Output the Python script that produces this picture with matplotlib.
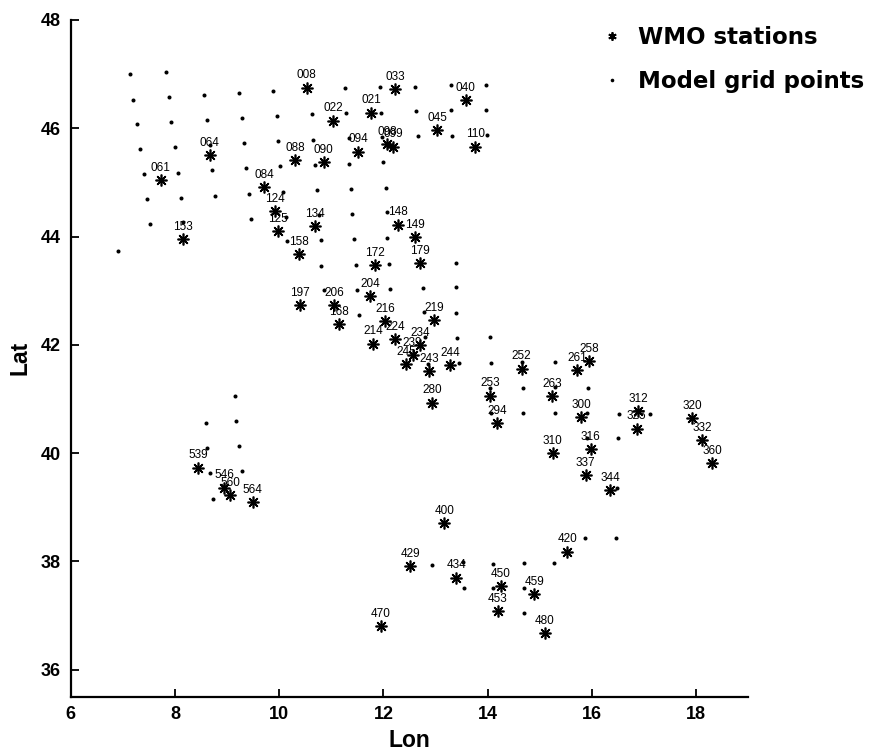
import matplotlib
matplotlib.use("Agg")
import matplotlib.pyplot as plt
from matplotlib.lines import Line2D

plt.rcParams['font.family'] = ['Liberation Sans', 'DejaVu Sans']

# WMO stations: identifier, longitude, latitude
station_ids = ["008", "022", "033", "021", "040", "045", "110", "064", "061", "088",
               "090", "094", "098", "099", "084", "124", "125", "134", "153", "148",
               "149", "158", "172", "179", "197", "206", "168", "204", "216", "219",
               "214", "224", "234", "239", "245", "243", "244", "280", "253", "252",
               "294", "263", "261", "258", "300", "310", "316", "337", "344", "312",
               "325", "320", "332", "360", "539", "546", "560", "564", "400", "429",
               "434", "450", "453", "459", "480", "420", "470"]
station_lon = [10.53, 11.03, 12.22, 11.77, 13.58, 13.03, 13.76, 8.67, 7.73, 10.30,
               10.85, 11.51, 12.07, 12.18, 9.71, 9.91, 9.98, 10.69, 8.16, 12.28,
               12.60, 10.37, 11.83, 12.70, 10.39, 11.05, 11.15, 11.75, 12.03, 12.97,
               11.80, 12.22, 12.70, 12.56, 12.43, 12.87, 13.28, 12.94, 14.05, 14.65,
               14.18, 15.23, 15.71, 15.94, 15.79, 15.25, 15.98, 15.88, 16.35, 16.89,
               16.86, 17.92, 18.12, 18.31, 8.45, 8.94, 9.06, 9.49, 13.17, 12.51,
               13.40, 14.25, 14.19, 14.89, 15.10, 15.53, 11.95]
station_lat = [46.75, 46.14, 46.72, 46.29, 46.52, 45.97, 45.66, 45.50, 45.04, 45.41,
               45.38, 45.57, 45.71, 45.66, 44.91, 44.47, 44.10, 44.19, 43.95, 44.22,
               43.99, 43.67, 43.47, 43.51, 42.73, 42.73, 42.38, 42.90, 42.44, 42.45,
               42.02, 42.11, 41.99, 41.81, 41.64, 41.52, 41.62, 40.93, 41.06, 41.56,
               40.56, 41.05, 41.53, 41.70, 40.66, 40.00, 40.08, 39.59, 39.31, 40.77,
               40.45, 40.64, 40.24, 39.82, 39.73, 39.36, 39.22, 39.10, 38.70, 37.91,
               37.70, 37.54, 37.08, 37.40, 36.67, 38.18, 36.80]

# Model grid points
grid_lon = [6.91, 7.13, 7.83,
            7.20, 7.88, 8.56, 9.23, 9.89, 11.26, 11.93, 12.60, 13.30, 13.97,
            7.28, 7.93, 8.61, 9.28, 9.95, 10.62, 11.29, 11.95, 12.62, 13.30, 13.97,
            7.33, 8.00, 8.67, 9.33, 9.98, 10.65, 11.33, 11.97, 12.66, 13.31, 13.99,
            7.40, 8.05, 8.71, 9.36, 10.02, 10.69, 11.34, 12.00,
            7.46, 8.11, 8.77, 9.42, 10.07, 10.73, 11.38, 12.04,
            7.52, 8.16, 9.45, 10.13, 10.76, 11.40, 12.06,
            10.15, 10.80, 11.43, 12.07,
            10.81, 11.47, 12.11, 13.39,
            10.86, 11.49, 12.13, 12.76, 13.40,
            11.53, 12.78, 13.40,
            12.80, 13.42, 14.04,
            12.85, 13.44, 14.06, 14.66, 15.30,
            14.05, 14.67, 15.30, 15.92,
            14.06, 14.68, 15.30, 15.90, 16.52, 17.11,
            15.91, 16.50,
            16.48,
            9.15, 9.18, 9.22, 9.28, 8.59, 8.62, 8.67, 8.72,
            15.86, 16.47,
            12.94, 13.53, 14.11, 14.70, 15.28,
            13.54, 14.11, 14.70,
            14.70]
grid_lat = [43.73, 47.01, 47.04,
            46.53, 46.58, 46.61, 46.65, 46.69, 46.74, 46.76, 46.77, 46.79, 46.79,
            46.07, 46.12, 46.16, 46.19, 46.23, 46.26, 46.28, 46.29, 46.31, 46.33, 46.33,
            45.61, 45.66, 45.69, 45.73, 45.76, 45.78, 45.82, 45.84, 45.86, 45.86, 45.87,
            45.15, 45.18, 45.23, 45.27, 45.30, 45.32, 45.34, 45.37,
            44.69, 44.72, 44.75, 44.79, 44.83, 44.86, 44.88, 44.89,
            44.23, 44.27, 44.33, 44.36, 44.40, 44.41, 44.45,
            43.91, 43.93, 43.95, 43.98,
            43.46, 43.48, 43.50, 43.52,
            43.01, 43.01, 43.03, 43.05, 43.06,
            42.55, 42.60, 42.59,
            42.15, 42.13, 42.15,
            41.65, 41.67, 41.67, 41.68, 41.68,
            41.21, 41.21, 41.22, 41.21,
            40.74, 40.74, 40.74, 40.74, 40.73, 40.73,
            40.28, 40.27,
            39.35,
            41.05, 40.59, 40.13, 39.67, 40.56, 40.09, 39.64, 39.16,
            38.43, 38.43,
            37.94, 37.99, 37.96, 37.97, 37.97,
            37.51, 37.51, 37.51,
            37.04]

x_ticks = [6, 8, 10, 12, 14, 16, 18]
y_ticks = [36, 38, 40, 42, 44, 46, 48]

fig = plt.figure(figsize=(8.69, 7.51), dpi=100)
ax = fig.add_axes([0.0814, 0.0723, 0.7797, 0.9011])

asterisk = (8, 2, 0)
ax.plot(grid_lon, grid_lat, linestyle='none', marker='o', markersize=2.9,
        color='black', markeredgewidth=0)
ax.plot(station_lon, station_lat, linestyle='none', marker=asterisk,
        markersize=8.5, color='black', markeredgewidth=1.2)

for sid, lo, la in zip(station_ids, station_lon, station_lat):
    ax.annotate(sid, (lo, la), xytext=(0, 4.5), textcoords='offset points',
                ha='center', va='bottom', fontsize=8.5)

ax.set_xlim(6, 19)
ax.set_ylim(35.5, 48)
ax.set_xticks(x_ticks)
ax.set_yticks(y_ticks)
ax.set_xticklabels([str(v) for v in x_ticks])
ax.set_yticklabels([str(v) for v in y_ticks])
ax.tick_params(direction='in', length=6, width=1.3, labelsize=13, pad=7)
for lab in ax.get_xticklabels() + ax.get_yticklabels():
    lab.set_fontweight('bold')

for side in ('top', 'right'):
    ax.spines[side].set_visible(False)
for side in ('left', 'bottom'):
    ax.spines[side].set_linewidth(1.6)

ax.set_xlabel('Lon', fontsize=16.5, fontweight='bold', labelpad=4)
ax.set_ylabel('Lat', fontsize=16.5, fontweight='bold', labelpad=7)

handles = [Line2D([], [], linestyle='none', marker=(6, 2, 0), markersize=6,
                  color='black', markeredgewidth=1.3),
           Line2D([], [], linestyle='none', marker='o', markersize=2.6,
                  color='black', markeredgewidth=0)]
fig.legend(handles, ['WMO stations', 'Model grid points'], loc='upper left',
           bbox_to_anchor=(601 / 869, 1 - 26 / 751), bbox_transform=fig.transFigure,
           frameon=False, borderpad=0, borderaxespad=0, handlelength=1.0,
           handletextpad=0.6, labelspacing=0.9,
           prop={'family': 'DejaVu Sans', 'weight': 'bold', 'size': 16.5})

fig.savefig('out.png', dpi=100)
